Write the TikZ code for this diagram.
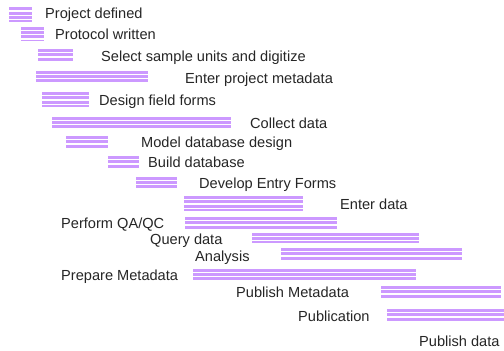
\documentclass[tikz,border=0pt]{standalone}
\usepackage{fontspec}
\setmainfont{Liberation Sans}
\definecolor{barpurple}{HTML}{CC99FF}
\begin{document}
\begin{tikzpicture}[x=1pt,y=-1pt,
  bar/.style={anchor=north west, inner sep=0pt, outer sep=0pt, fill=barpurple, draw=none,
    path picture={\foreach \k in {0,...,5}
      \fill[white] ([yshift=-3.1pt-\k*4.3pt]path picture bounding box.north west) rectangle ++(600pt,-1.2pt);}},
  lbl/.style={anchor=base west, inner sep=0pt, font=\fontsize{14.6}{16}\selectfont, text=black!85}]
\useasboundingbox[fill=white] (0,0) rectangle (504,351);
% bars
\node[bar, minimum width=23pt, minimum height=15pt] (b1) at (9,7.3) {};
\node[bar, minimum width=23pt, minimum height=14pt] (b2) at (21,26.7) {};
\node[bar, minimum width=35pt, minimum height=12pt] (b3) at (38,49) {};
\node[bar, minimum width=112pt, minimum height=12.5pt] (b4) at (36,70.7) {};
\node[bar, minimum width=47pt, minimum height=15pt] (b5) at (42,92) {};
\node[bar, minimum width=179pt, minimum height=11pt] (b6) at (52,116.7) {};
\node[bar, minimum width=42pt, minimum height=13pt] (b7) at (66,136) {};
\node[bar, minimum width=31pt, minimum height=13pt] (b8) at (108,156) {};
\node[bar, minimum width=41pt, minimum height=12.5pt] (b9) at (136,176.7) {};
\node[bar, minimum width=119pt, minimum height=15pt] (b10) at (184,196) {};
\node[bar, minimum width=152pt, minimum height=11.5pt] (b11) at (185,217) {};
\node[bar, minimum width=167pt, minimum height=10.5pt] (b12) at (252,232.7) {};
\node[bar, minimum width=181pt, minimum height=13pt] (b13) at (281,248) {};
\node[bar, minimum width=223pt, minimum height=11.5pt] (b14) at (193,268.7) {};
\node[bar, minimum width=120pt, minimum height=13pt] (b15) at (381,286) {};
\node[bar, minimum width=117pt, minimum height=13pt] (b16) at (387,309) {};
% labels
\node[lbl] (t1) at (45,18.3) {Project defined};
\node[lbl] (t2) at (55,39.5) {Protocol written};
\node[lbl] (t3) at (101,61) {Select sample units and digitize};
\node[lbl] (t4) at (185,83.3) {Enter project metadata};
\node[lbl] (t5) at (99,105.8) {Design field forms};
\node[lbl] (t6) at (250,128) {Collect data};
\node[lbl] (t7) at (141,147.5) {Model database design};
\node[lbl] (t8) at (148,167.5) {Build database};
\node[lbl] (t9) at (199,188.5) {Develop Entry Forms};
\node[lbl] (t10) at (340,209) {Enter data};
\node[lbl] (t11) at (61,228) {Perform QA/QC};
\node[lbl] (t12) at (150,244.5) {Query data};
\node[lbl] (t13) at (195,261) {Analysis};
\node[lbl] (t14) at (61,280) {Prepare Metadata};
\node[lbl] (t15) at (236,297.5) {Publish Metadata};
\node[lbl] (t16) at (298,321) {Publication};
\node[lbl] (t17) at (419,346) {Publish data};
\end{tikzpicture}
\end{document}
